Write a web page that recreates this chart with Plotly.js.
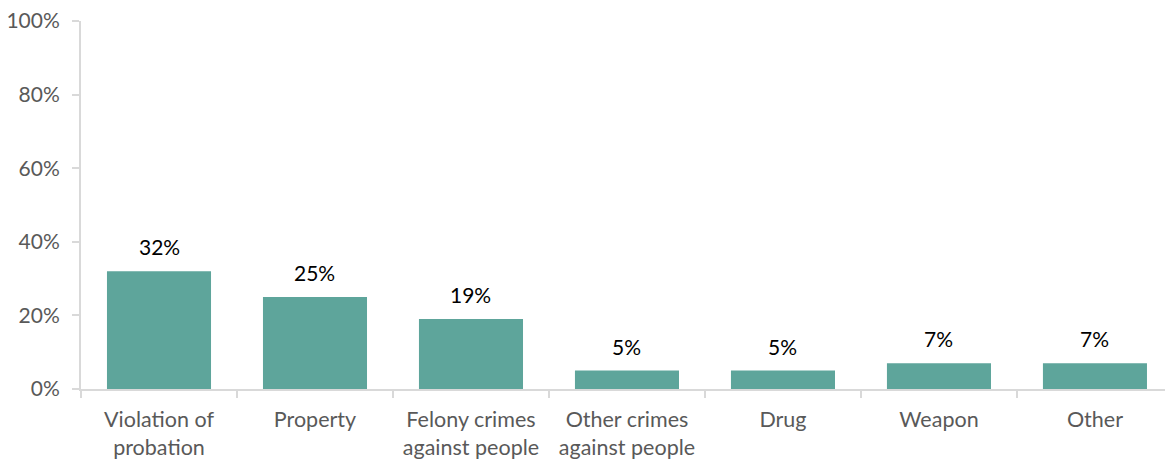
<!DOCTYPE html>
<html>
<head>
<meta charset="utf-8">
<script src="https://cdn.plot.ly/plotly-3.0.1.min.js"></script>
<style>html,body{margin:0;padding:0;background:#fff;}#chart{width:1165px;height:460px;}</style>
</head>
<body>
<div id="chart"></div>
<script>
var categories = ["Violation of<br>probation", "Property", "Felony crimes<br>against people", "Other crimes<br>against people", "Drug", "Weapon", "Other"];
var values = [0.32, 0.25, 0.19, 0.05, 0.05, 0.07, 0.07];
var labels = ["32%", "25%", "19%", "5%", "5%", "7%", "7%"];
var yTicks = [0, 0.2, 0.4, 0.6, 0.8, 1.0];
var yTickLabels = ["0%", "20%", "40%", "60%", "80%", "100%"];

var font = "Lato, 'Open Sans', sans-serif";
var trace = {
  type: "bar",
  x: categories,
  y: values,
  width: 0.667,
  marker: {color: "#5ea59b", line: {width: 0}},
  hoverinfo: "none"
};
var annotations = categories.map(function(c, i) {
  return {x: c, y: values[i], text: labels[i], showarrow: false, yanchor: "bottom", yshift: 10,
    font: {family: font, size: 21, color: "#000"}};
});
var layout = {
  width: 1165, height: 460,
  margin: {l: 81, r: 0, t: 21, b: 71},
  paper_bgcolor: "#fff", plot_bgcolor: "#fff",
  showlegend: false,
  xaxis: {
    range: [-0.5, 6.449],
    showline: true, linecolor: "#d9d9d9", linewidth: 2,
    ticks: "outside", tickson: "boundaries", ticklen: 7, tickcolor: "#d9d9d9", tickwidth: 2,
    ticklabelstandoff: 10,
    tickfont: {family: font, size: 21.5, color: "#595959"},
    showgrid: false, zeroline: false, fixedrange: true
  },
  yaxis: {
    range: [0, 1],
    tickvals: yTicks, ticktext: yTickLabels,
    showline: true, linecolor: "#d9d9d9", linewidth: 2,
    ticks: "outside", ticklen: 7, tickcolor: "#d9d9d9", tickwidth: 2,
    ticklabelstandoff: 8,
    tickfont: {family: font, size: 21, color: "#595959"},
    showgrid: false, zeroline: false, fixedrange: true
  },
  annotations: annotations
};
Plotly.newPlot("chart", [trace], layout, {displayModeBar: false, staticPlot: true});
</script>
</body>
</html>
